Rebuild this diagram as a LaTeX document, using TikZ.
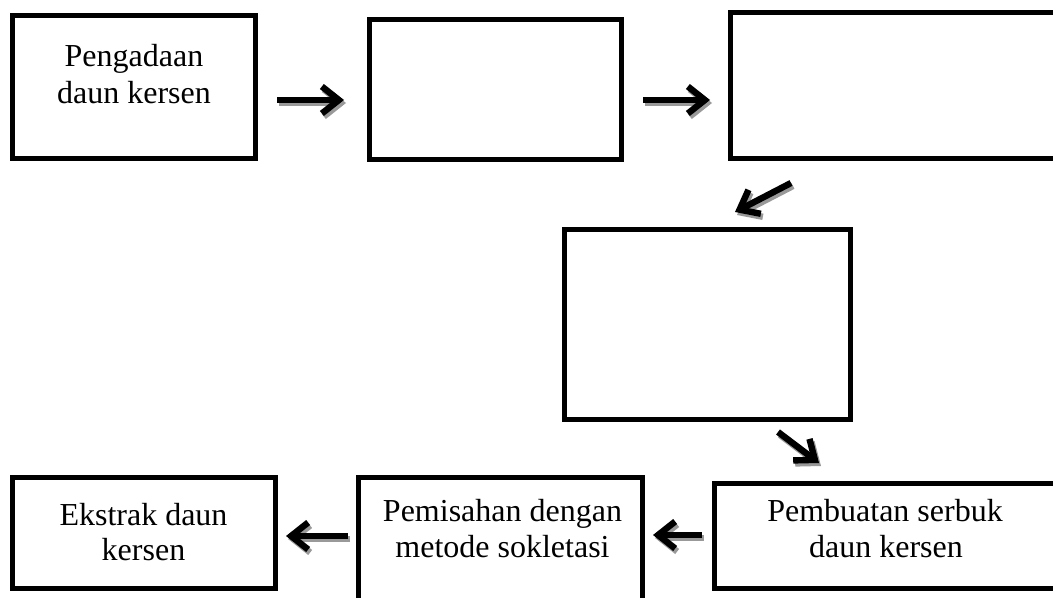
\documentclass[tikz,border=0pt]{standalone}
\usepackage{fontspec}
\setmainfont{Liberation Serif}
\usetikzlibrary{arrows.meta}
\begin{document}
\begin{tikzpicture}[x=0.5pt,y=-0.5pt,
  box/.style={draw=black,line width=2.5pt,rectangle,inner sep=0pt},
  lbl/.style={anchor=base,inner sep=0pt,font=\fontsize{16}{18.4}\selectfont},
  arr/.style={draw=black,line width=3.2pt,-{Straight Barb[length=8.5pt,width=13.5pt,line width=3.2pt]}},
  arrsh/.style={draw=black!40,line width=3.2pt,-{Straight Barb[length=8.5pt,width=13.5pt,line width=3.2pt]}}]
\useasboundingbox (0,0) rectangle (1053,598);
% boxes
\node[box,minimum width=121.5pt,minimum height=71.5pt] (b1) at (134,87) {};
\node[box,minimum width=126pt,minimum height=70pt] (b2) at (495.5,89.5) {};
\node[box,minimum width=184.75pt,minimum height=73pt] (b3) at (915,85.5) {};
\node[box,minimum width=143pt,minimum height=95pt] (b4) at (707.5,324.5) {};
\node[box,minimum width=171.5pt,minimum height=52.5pt] (b5) at (886,536) {};
\node[box,minimum width=142pt,minimum height=71.25pt] (b6) at (500.5,548.75) {};
\node[box,minimum width=131.5pt,minimum height=55.5pt] (b7) at (144,533) {};
% texts
\node[lbl] (t1a) at (134,67) {Pengadaan};
\node[lbl] (t1b) at (134,104) {daun kersen};
\node[lbl] (t5a) at (885,521) {Pembuatan serbuk};
\node[lbl] (t5b) at (886,557) {daun kersen};
\node[lbl] (t6a) at (502.5,521) {Pemisahan dengan};
\node[lbl] (t6b) at (502.5,557) {metode sokletasi};
\node[lbl] (t7a) at (143.5,525) {Ekstrak daun};
\node[lbl] (t7b) at (143.5,560) {kersen};
% arrow end points
\coordinate (a1s) at (277,100); \coordinate (a1e) at (344,100);
\coordinate (a2s) at (643,100); \coordinate (a2e) at (710,100);
\coordinate (a3s) at (791,183); \coordinate (a3e) at (735,212);
\coordinate (a4s) at (778,432); \coordinate (a4e) at (819,463);
\coordinate (a5s) at (702,535); \coordinate (a5e) at (653,535);
\coordinate (a6s) at (348,536); \coordinate (a6e) at (286,536);
% shadows
\foreach \s/\e in {a1s/a1e,a2s/a2e,a3s/a3e,a4s/a4e,a5s/a5e,a6s/a6e}
  \draw[arrsh] ([shift={(2,3)}]\s) -- ([shift={(2,3)}]\e);
% arrows
\foreach \s/\e in {a1s/a1e,a2s/a2e,a3s/a3e,a4s/a4e,a5s/a5e,a6s/a6e}
  \draw[arr] (\s) -- (\e);
\end{tikzpicture}
\end{document}
